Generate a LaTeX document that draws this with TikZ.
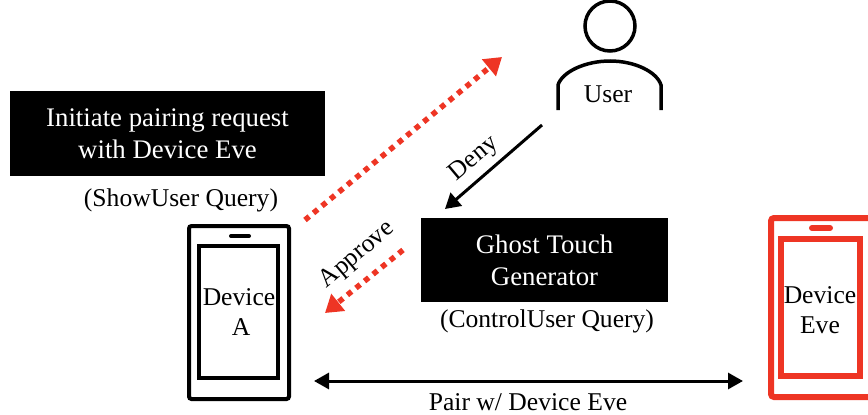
\documentclass[tikz,border=0pt]{standalone}
\usepackage{fontspec}
\setmainfont{Liberation Serif}
\usetikzlibrary{arrows.meta}
\definecolor{evered}{HTML}{EE3524}
\tikzset{
  lbl/.style={font=\fontsize{25.6}{29}\selectfont,text=black,inner sep=0pt,align=center},
  blackbox/.style={fill=black,draw=none,inner sep=0pt,text=white,font=\fontsize{26.8}{32}\selectfont,align=center},
  redarrow/.style={evered,line width=5.5pt,dash pattern=on 5.5pt off 5.5pt,-{Triangle[length=17pt,width=21pt,fill=evered]}},
  blackarrow/.style={black,line width=3pt,-{Triangle[length=15pt,width=17pt]}},
  pairarrow/.style={black,line width=3pt,{Triangle[length=15pt,width=16pt]}-{Triangle[length=15pt,width=16pt]}},
}
\begin{document}
\begin{tikzpicture}[x=1pt,y=-1pt]
\useasboundingbox (0,0) rectangle (868,415);
% black boxes
\node[blackbox,minimum width=315pt,minimum height=85pt] (initbox) at (167.5,133.5) {Initiate pairing request\\with Device Eve};
\node[blackbox,minimum width=247pt,minimum height=84pt] (ghost) at (544.5,260) {Ghost Touch\\Generator};
\node[lbl] (showq) at (181,200) {(ShowUser Query)};
\node[lbl] (ctrlq) at (547,321) {(ControlUser Query)};
% Device A
\draw[line width=4pt,rounded corners=2.5pt] (189,226) rectangle (289,399);
\draw[line width=4pt] (199,246) rectangle (278,378);
\draw[line width=4pt,line cap=round] (231,236) -- (249,236);
\node[lbl] (deva) at (239,312) {Device\\[1pt]\hspace{4pt}A};
% Device Eve
\draw[evered,line width=6pt,rounded corners=3pt] (771,218) rectangle (880,397);
\draw[evered,line width=6pt] (781,238.5) rectangle (860,376);
\draw[evered,line width=6pt,line cap=round] (812,228) -- (830,228);
\node[lbl] (deve) at (820,310) {Device\\[1pt]Eve};
% User
\node[circle,draw,line width=3.5pt,minimum size=50pt,inner sep=0pt] (head) at (610,26) {};
\draw[line width=3.5pt] (558,110) -- (558,85) .. controls (562,72) and (585,61) .. (610,61) .. controls (635,61) and (657,72) .. (661,85) -- (661,110);
\node[lbl] (user) at (608,94) {User};
% helper coordinates
\coordinate (s1) at (305,220);
\coordinate (e1) at (502,57);
\coordinate (s2) at (403,250);
\coordinate (e2) at (325,313);
\coordinate (s3) at (542,125);
\coordinate (e3) at (445,209);
\coordinate (s4) at (314,381);
\coordinate (e4) at (743,381);
\draw[redarrow] (s1) -- (e1);
\draw[redarrow] (s2) -- (e2);
\draw[blackarrow] (s3) -- (e3);
\draw[pairarrow] (s4) -- (e4);
\node[lbl,rotate=40] (deny) at (474,159) {Deny};
\node[lbl,rotate=40] (appr) at (357.5,255) {Approve};
\node[lbl] (pair) at (528,402) {Pair w/ Device Eve};
\end{tikzpicture}
\end{document}
